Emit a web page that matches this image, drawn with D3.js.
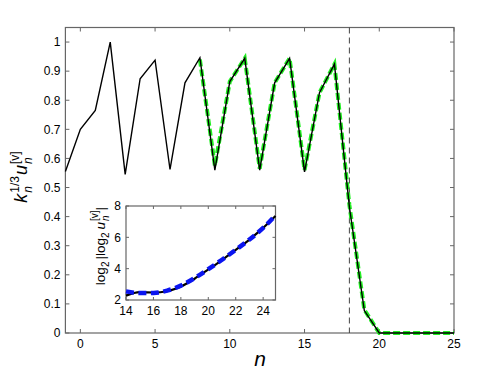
<!DOCTYPE html>
<html><head><meta charset="utf-8">
<script src="https://cdn.jsdelivr.net/npm/d3@7"></script>
<style>body{margin:0;background:#fff;} text{font-family:"Liberation Sans",Arial,sans-serif;}</style>
</head><body>
<svg id="c" width="501" height="376"></svg>
<script>
// main series: n and k_n^{1/3} u_n^{[v]}
const nMain = [-1,0,1,2,3,4,5,6,7,8,9,10,11,12,13,14,15,16,17,18,19,20,21,22,23,24,25];
const vMain = [0.555,0.70,0.765,1.0,0.545,0.874,0.938,0.562,0.86,0.946,0.56,0.864,0.944,0.56,0.86,0.944,0.554,0.826,0.924,0.434,0.077,0,0,0,0,0,0];
// green dashed comparison series
const nGreen = [8,9,10,11,12,13,14,15,16,17,18,19,20,21,22,23,24,25];
const vGreen = [0.94,0.575,0.864,0.944,0.565,0.86,0.944,0.56,0.826,0.924,0.44,0.08,0,0,0,0,0,0];
// inset series: log2|log2 u_n|
const nInset = [14,15,16,17,18,19,20,21,22,23,24,24.9];
const vInsetBlack = [2.28,2.5,2.48,2.56,2.86,3.36,3.95,4.55,5.2,5.86,6.6,7.36];
const vInsetBlue = [2.55,2.44,2.45,2.6,2.92,3.4,3.97,4.57,5.2,5.86,6.6,7.4];
const xTicksMain = [0,5,10,15,20,25];
const yTicksMain = [0,0.1,0.2,0.3,0.4,0.5,0.6,0.7,0.8,0.9,1];
const xTicksInset = [14,16,18,20,22,24];
const yTicksInset = [2,4,6,8];
const nMark = 18;

const svg = d3.select("#c");
const axisColor = "#666";

function frame(g, x, y, xt, yt, fs, tl, fmtY) {
  const [x0,x1] = x.range(), [y0,y1] = y.range();
  g.append("rect").attr("x",x0).attr("y",y1).attr("width",x1-x0).attr("height",y0-y1)
    .attr("fill","none").attr("stroke",axisColor).attr("stroke-width",1.2);
  xt.forEach(t => {
    const px = x(t);
    g.append("line").attr("x1",px).attr("x2",px).attr("y1",y0).attr("y2",y0-tl).attr("stroke",axisColor);
    g.append("line").attr("x1",px).attr("x2",px).attr("y1",y1).attr("y2",y1+tl).attr("stroke",axisColor);
    g.append("text").attr("x",px).attr("y",y0+fs+3).attr("text-anchor","middle").attr("font-size",fs).text(t);
  });
  yt.forEach(t => {
    const py = y(t);
    g.append("line").attr("x1",x0).attr("x2",x0+tl).attr("y1",py).attr("y2",py).attr("stroke",axisColor);
    g.append("line").attr("x1",x1).attr("x2",x1-tl).attr("y1",py).attr("y2",py).attr("stroke",axisColor);
    g.append("text").attr("x",x0-5).attr("y",py+fs*0.36).attr("text-anchor","end").attr("font-size",fs).text(fmtY(t));
  });
}

// rich label builder
function richLabel(parent, pieces, cx, cy) {
  const g = parent.append("g");
  const inner = g.append("g");
  let cur = 0;
  pieces.forEach(p => {
    if (p.stack) {
      let w = 0;
      p.stack.forEach(s => {
        const t = inner.append("text").attr("x",cur).attr("y",s.dy).attr("font-size",s.size)
          .attr("font-style",s.italic?"italic":"normal").text(s.t);
        w = Math.max(w, t.node().getComputedTextLength());
      });
      cur += w + (p.gap||0);
    } else {
      const t = inner.append("text").attr("x",cur).attr("y",p.dy||0).attr("font-size",p.size)
        .attr("font-style",p.italic?"italic":"normal").attr("xml:space","preserve").text(p.t);
      cur += t.node().getComputedTextLength() + (p.gap||0);
    }
  });
  inner.attr("transform",`translate(${-cur/2},0)`);
  g.attr("transform",`translate(${cx},${cy}) rotate(-90)`);
  return g;
}

// main axes
const x = d3.scaleLinear().domain([-1,25]).range([65.4,454]);
const y = d3.scaleLinear().domain([0,1.05]).range([333,27.5]);
const gm = svg.append("g");
frame(gm, x, y, xTicksMain, yTicksMain, 12, 4, d=> d===0?"0":(d===1?"1":d.toFixed(1)));

// vertical dashed marker
gm.append("line").attr("x1",x(nMark)).attr("x2",x(nMark)).attr("y1",y.range()[1]).attr("y2",y.range()[0])
  .attr("stroke","#444").attr("stroke-width",1).attr("stroke-dasharray","6,4");

const line = d3.line().x(d=>x(d[0])).y(d=>y(d[1]));
gm.append("path").datum(nGreen.map((n,i)=>[n,vGreen[i]])).attr("d",line)
  .attr("fill","none").attr("stroke","#22ee22").attr("stroke-width",4).attr("stroke-dasharray","7,3");
gm.append("path").datum(nMain.map((n,i)=>[n,vMain[i]])).attr("d",line)
  .attr("fill","none").attr("stroke","#000").attr("stroke-width",1.4).attr("stroke-linejoin","miter");

// labels
gm.append("text").attr("x",260).attr("y",366).attr("text-anchor","middle").attr("font-size",21)
  .attr("font-style","italic").text("n");
richLabel(svg, [
  {t:"k", size:18, italic:true, gap:1},
  {stack:[{t:"n",size:12,italic:true,dy:5},{t:"1/3",size:12,dy:-8}], gap:1},
  {t:"u", size:18, italic:true, gap:1},
  {stack:[{t:"n",size:12,italic:true,dy:5},{t:"[v]",size:12,dy:-8}]}
], 27, 177);

// inset
const xi = d3.scaleLinear().domain([14,24.9]).range([126,275.5]);
const yi = d3.scaleLinear().domain([2,8]).range([300,206]);
const gi = svg.append("g");
gi.append("rect").attr("x",126).attr("y",206).attr("width",149.5).attr("height",94).attr("fill","#fff");
frame(gi, xi, yi, xTicksInset, yTicksInset, 12, 3, d=>d);
const iline = d3.line().x(d=>xi(d[0])).y(d=>yi(d[1])).curve(d3.curveMonotoneX);
gi.append("path").datum(nInset.map((n,i)=>[n,vInsetBlack[i]])).attr("d",iline)
  .attr("fill","none").attr("stroke","#000").attr("stroke-width",2.2);
gi.append("path").datum(nInset.map((n,i)=>[n,vInsetBlue[i]])).attr("d",iline)
  .attr("fill","none").attr("stroke","#0a14f0").attr("stroke-width",4.5).attr("stroke-dasharray","8,4.5");
richLabel(svg, [
  {t:"log", size:13.5},
  {t:"2", size:10, dy:4, gap:2},
  {t:"|log", size:13.5},
  {t:"2", size:10, dy:4, gap:3},
  {t:"u", size:13.5, italic:true, gap:1},
  {stack:[{t:"n",size:10,italic:true,dy:4},{t:"[v]",size:10,dy:-7}]},
  {t:"|", size:13.5}
], 105, 246);
</script>
</body></html>
